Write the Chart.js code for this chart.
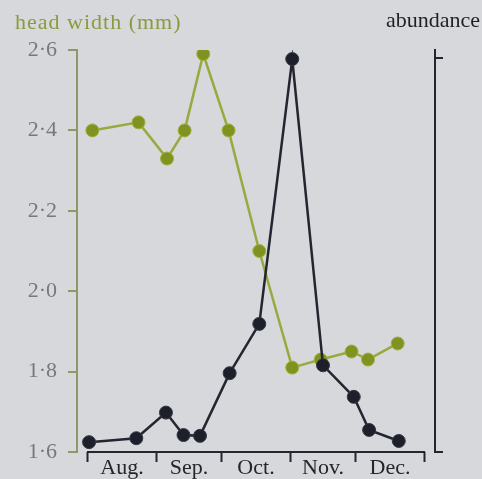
<!DOCTYPE html>
<html>
<head>
<meta charset="utf-8">
<title>Head width and abundance</title>
<script src="https://cdn.jsdelivr.net/npm/chart.js@4.4.1/dist/chart.umd.min.js"></script>
<style>
  body { margin: 0; background: #d6d8dc; }
  #wrap { position: relative; width: 482px; height: 479px; overflow: hidden; }
  .label { position: absolute; font-family: "Liberation Serif", "DejaVu Serif", serif; font-size: 22px; line-height: 22px; white-space: nowrap; }
  #left-title { left: 15px; top: 11px; color: #8c9a3e; letter-spacing: 1px; }
  #right-title { right: 2px; top: 9px; color: #1f2026; }
</style>
</head>
<body>
<div id="wrap">
  <canvas id="chart" width="482" height="479"></canvas>
  <div class="label" id="left-title">head width (mm)</div>
  <div class="label" id="right-title">abundance</div>
</div>
<script>
// x is days counted from 1 August
const months = ['Aug.', 'Sep.', 'Oct.', 'Nov.', 'Dec.'];
const monthStarts = [0, 31, 61, 92, 122, 153];
const headWidthTicks = [1.6, 1.8, 2.0, 2.2, 2.4, 2.6];

const widthDays = [2, 23, 36, 44, 52.5, 64, 78, 93, 106, 120, 127.5, 141];
const headWidth = [2.40, 2.42, 2.33, 2.40, 2.59, 2.40, 2.10, 1.81, 1.83, 1.85, 1.83, 1.87];

// abundance has no scale in the original, so it is relative (bracket = 0..100)
const abundanceDays = [0.5, 22, 35.5, 43.5, 51, 64.5, 78, 93, 107, 121, 128, 141.5];
const abundance = [2.5, 3.5, 10, 4.3, 4.1, 20, 32.5, 99.7, 22, 14, 5.6, 2.8];

const ink = '#23262f';
const olive = '#8e9868';
const serif = "'Liberation Serif', 'DejaVu Serif', serif";

const monthMids = months.map((m, i) => (monthStarts[i] + monthStarts[i + 1]) / 2);

// x axis line only runs from the first to the last month edge
const xAxisLine = {
    id: 'xAxisLine',
    beforeDatasetsDraw(chart) {
        const s = chart.scales.x;
        const c = chart.ctx;
        c.save();
        c.strokeStyle = ink;
        c.lineWidth = 2;
        c.beginPath();
        c.moveTo(s.getPixelForValue(monthStarts[0]) - 1, s.top);
        c.lineTo(s.getPixelForValue(monthStarts[monthStarts.length - 1]) + 1, s.top);
        c.stroke();
        c.restore();
    }
};

new Chart(document.getElementById('chart'), {
    type: 'line',
    data: {
        datasets: [{
            label: 'abundance',
            data: abundanceDays.map((d, i) => ({ x: d, y: abundance[i] })),
            yAxisID: 'y1',
            borderColor: ink,
            borderWidth: 2.5,
            pointRadius: 6.5,
            pointBackgroundColor: '#1d202a',
            pointBorderColor: '#343846',
            pointBorderWidth: 1
        }, {
            label: 'head width (mm)',
            data: widthDays.map((d, i) => ({ x: d, y: headWidth[i] })),
            yAxisID: 'y',
            borderColor: '#9aa83f',
            borderWidth: 2.5,
            pointRadius: 6.5,
            pointBackgroundColor: '#80921f',
            pointBorderColor: '#a2b03c',
            pointBorderWidth: 1
        }]
    },
    options: {
        responsive: false,
        animation: false,
        layout: { padding: { top: 50, left: 0, right: 0, bottom: 0 } },
        plugins: {
            legend: { display: false },
            tooltip: { enabled: false }
        },
        scales: {
            x: {
                type: 'linear',
                min: -5,
                max: 158,
                afterBuildTicks: s => {
                    s.ticks = monthStarts.concat(monthMids).sort((a, b) => a - b).map(v => ({ value: v }));
                },
                afterFit: s => { s.height = 27; },
                border: { display: false },
                grid: {
                    drawOnChartArea: false,
                    tickLength: 10,
                    tickWidth: 2,
                    tickColor: ctx => (ctx.tick && monthStarts.includes(ctx.tick.value)) ? ink : 'transparent'
                },
                ticks: {
                    autoSkip: false,
                    maxRotation: 0,
                    padding: -7,
                    color: '#25262b',
                    font: { family: serif, size: 22 },
                    callback: v => {
                        const i = monthMids.indexOf(v);
                        return i >= 0 ? months[i] : '';
                    }
                }
            },
            y: {
                position: 'left',
                min: 1.6,
                max: 2.6,
                afterBuildTicks: s => { s.ticks = headWidthTicks.map(v => ({ value: v })); },
                afterFit: s => { s.width = 77; },
                border: { color: olive, width: 2 },
                grid: { drawOnChartArea: false, tickLength: 9, lineWidth: 2, color: olive },
                ticks: {
                    padding: 11,
                    color: '#77787a',
                    font: { family: serif, size: 22 },
                    callback: v => v.toFixed(1).replace('.', '·')
                }
            },
            y1: {
                position: 'right',
                min: 0,
                max: 102,
                afterBuildTicks: s => { s.ticks = [{ value: 0 }, { value: 100 }]; },
                afterFit: s => { s.width = 47; },
                border: { color: ink, width: 2 },
                grid: { drawOnChartArea: false, tickLength: 8, lineWidth: 2, color: ink },
                ticks: { display: false }
            }
        }
    },
    plugins: [xAxisLine]
});
</script>
</body>
</html>
